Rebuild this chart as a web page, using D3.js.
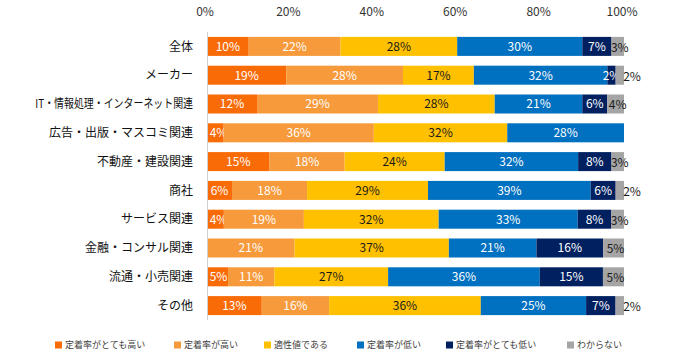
<!DOCTYPE html>
<html><head><meta charset="utf-8">
<script src="https://cdn.jsdelivr.net/npm/d3@7"></script>
<style>body{margin:0;background:#fff}svg{display:block;font-family:"Noto Sans CJK JP","Noto Sans",sans-serif}</style>
</head><body><svg width="700" height="360"></svg>
<script>
const categories = ["全体","メーカー","IT・情報処理・インターネット関連","広告・出版・マスコミ関連","不動産・建設関連","商社","サービス関連","金融・コンサル関連","流通・小売関連","その他"];
const seriesNames = ["定着率がとても高い","定着率が高い","適性値である","定着率が低い","定着率がとても低い","わからない"];
const veryHigh    = [10,19,12, 4,15, 6, 4, 0, 5,13];
const high        = [22,28,29,36,18,18,19,21,11,16];
const appropriate = [28,17,28,32,24,29,32,37,27,36];
const low         = [30,32,21,28,32,39,33,21,36,25];
const veryLow     = [ 7, 2, 6, 0, 8, 6, 8,16,15, 7];
const unknown     = [ 3, 2, 4, 0, 3, 2, 3, 5, 5, 2];
const tickLabels  = ["0%","20%","40%","60%","80%","100%"];

const colors = ["#F96B07","#F79A3B","#FFC000","#0070C0","#002060","#A5A5A5"];
const labelColors = ["#fff","#fff","#1a1a1a","#fff","#fff","#1a1a1a"];
const seriesVals = [veryHigh,high,appropriate,low,veryLow,unknown];

const rows = categories.map((c,i)=>{const o={cat:c};seriesNames.forEach((s,k)=>o[s]=seriesVals[k][i]);return o;});
const stack = d3.stack().keys(seriesNames).offset(d3.stackOffsetExpand)(rows);

const svg = d3.select("svg");
const x = d3.scaleLinear().domain([0,1]).range([207,624]);
const y = d3.scaleBand().domain(categories).range([32,320]).paddingInner(0.34).paddingOuter(0.17);

// top tick labels
svg.append("g").selectAll("text").data(tickLabels).join("text")
  .attr("x",(d,i)=>x(i/5)-2).attr("y",16).attr("text-anchor","middle")
  .attr("font-size",12).attr("fill","#333").text(d=>d);

// bars
stack.forEach((layer,k)=>{
  const g = svg.append("g");
  g.selectAll("rect").data(layer.filter(d=>d[1]-d[0]>0)).join("rect")
    .attr("x",d=>x(d[0])).attr("width",d=>x(d[1])-x(d[0]))
    .attr("y",d=>y(d.data.cat)).attr("height",y.bandwidth())
    .attr("fill",colors[k]);
  g.selectAll("text").data(layer.filter(d=>d.data[seriesNames[k]]>0)).join("text")
    .attr("x",d=>{
      const v=d.data[seriesNames[k]];
      if(k===5 && v<=2) return x(d[1])+8;
      let c=(x(d[0])+x(d[1]))/2 + (k===5?2:0);
      if(k===0) c=Math.max(c,x(d[0])+11.5);
      return c;
    })
    .attr("y",d=>y(d.data.cat)+y.bandwidth()/2+ (k===5?1:0))
    .attr("dy","0.36em").attr("text-anchor","middle")
    .attr("font-size",12).attr("fill",d=>(k===5&&d.data[seriesNames[k]]<=2)?"#1a1a1a":labelColors[k])
    .text(d=>d.data[seriesNames[k]]+"%");
});

// axis line
svg.append("line").attr("x1",207.5).attr("x2",207.5).attr("y1",32).attr("y2",320)
  .attr("stroke","#d0d0d0").attr("stroke-width",1);

// category labels
svg.append("g").selectAll("text").data(categories).join("text")
  .attr("transform",d=>`translate(193,${y(d)+y.bandwidth()/2})`).attr("dy","0.35em")
  .attr("text-anchor","end").attr("font-size",12).attr("fill","#111").text(d=>d)
  .each(function(d){
    const w=this.getComputedTextLength();
    if(w>158){d3.select(this).attr("transform",`translate(193,${y(d)+y.bandwidth()/2}) scale(${158/w},1)`);}
  });

// legend
const legendX = [55,174,264,357,446,567];
const lg = svg.append("g").selectAll("g").data(seriesNames).join("g")
  .attr("transform",(d,i)=>`translate(${legendX[i]},345)`);
lg.append("rect").attr("x",0).attr("y",-3.5).attr("width",7).attr("height",7).attr("fill",(d,i)=>colors[i]);
lg.append("text").attr("x",10).attr("y",0).attr("dy","0.35em").attr("font-size",9).attr("fill","#404040").text(d=>d);
</script></body></html>
